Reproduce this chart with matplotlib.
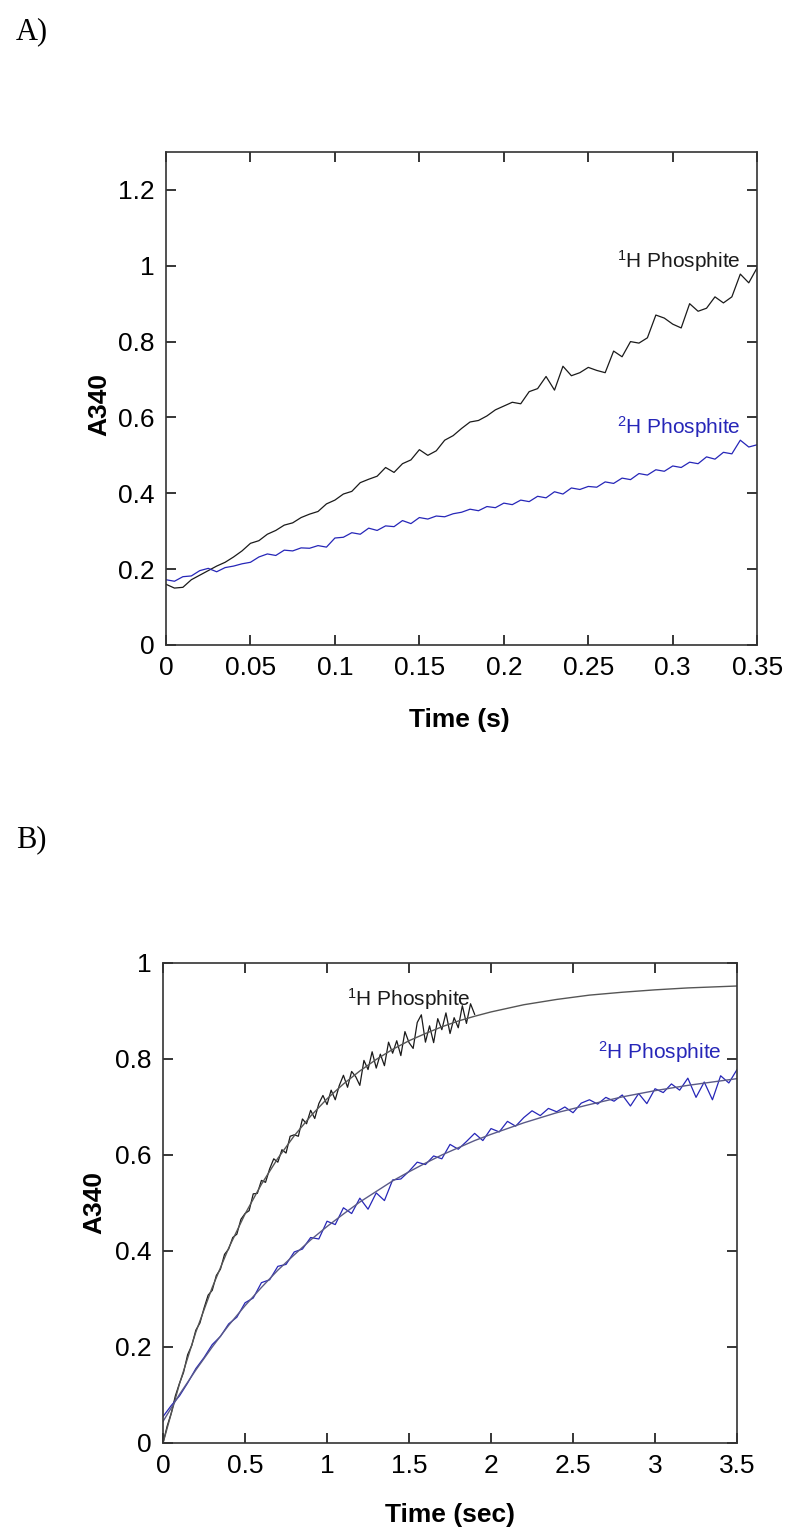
import matplotlib
matplotlib.use('Agg')
import matplotlib.pyplot as plt
from matplotlib.ticker import FuncFormatter

plt.rcParams['font.family'] = ['Liberation Sans', 'DejaVu Sans']
plt.rcParams['mathtext.fontset'] = 'custom'
plt.rcParams['mathtext.rm'] = 'Liberation Sans'
plt.rcParams['mathtext.default'] = 'regular'

# Panel A - first 0.35 s of the stopped-flow traces
time_a = [i * 0.005 for i in range(71)]
h1_a = [0.160, 0.150, 0.152, 0.172, 0.184, 0.196, 0.208, 0.218, 0.232, 0.248,
        0.268, 0.275, 0.292, 0.302, 0.316, 0.322, 0.336, 0.345, 0.352, 0.372,
        0.382, 0.398, 0.405, 0.428, 0.437, 0.445, 0.468, 0.455, 0.478, 0.488,
        0.515, 0.500, 0.512, 0.540, 0.552, 0.571, 0.588, 0.592, 0.604, 0.620,
        0.630, 0.640, 0.636, 0.668, 0.676, 0.708, 0.672, 0.735, 0.710, 0.718,
        0.732, 0.724, 0.718, 0.775, 0.760, 0.800, 0.796, 0.810, 0.870, 0.862,
        0.846, 0.836, 0.900, 0.880, 0.888, 0.918, 0.902, 0.918, 0.978, 0.955,
        0.995]
h2_a = [0.172, 0.168, 0.180, 0.182, 0.196, 0.202, 0.193, 0.204, 0.208, 0.214,
        0.218, 0.232, 0.240, 0.236, 0.250, 0.248, 0.256, 0.255, 0.262, 0.258,
        0.282, 0.284, 0.296, 0.292, 0.308, 0.302, 0.314, 0.312, 0.328, 0.320,
        0.336, 0.332, 0.340, 0.338, 0.346, 0.350, 0.358, 0.354, 0.365, 0.362,
        0.374, 0.370, 0.382, 0.378, 0.392, 0.388, 0.404, 0.398, 0.414, 0.410,
        0.418, 0.416, 0.430, 0.426, 0.440, 0.436, 0.452, 0.448, 0.462, 0.458,
        0.472, 0.468, 0.482, 0.478, 0.496, 0.490, 0.508, 0.504, 0.540, 0.522,
        0.528]

# Panel B - longer traces with their fitted curves
time_b1 = [i * 0.025 for i in range(77)]
h1_b = [0.000, 0.035, 0.062, 0.098, 0.124, 0.147, 0.184, 0.203, 0.235, 0.250,
        0.281, 0.308, 0.318, 0.349, 0.362, 0.393, 0.404, 0.428, 0.435, 0.466,
        0.478, 0.484, 0.519, 0.520, 0.547, 0.543, 0.571, 0.592, 0.585, 0.611,
        0.604, 0.639, 0.642, 0.639, 0.675, 0.665, 0.693, 0.676, 0.707, 0.724,
        0.705, 0.735, 0.715, 0.745, 0.766, 0.741, 0.774, 0.763, 0.745, 0.797,
        0.778, 0.815, 0.781, 0.810, 0.786, 0.835, 0.812, 0.838, 0.807, 0.857,
        0.834, 0.822, 0.876, 0.892, 0.835, 0.869, 0.834, 0.884, 0.861, 0.896,
        0.853, 0.886, 0.865, 0.911, 0.874, 0.915, 0.893]
time_b2 = [i * 0.05 for i in range(71)]
h2_b = [0.055, 0.078, 0.098, 0.125, 0.155, 0.178, 0.205, 0.222, 0.248, 0.262,
        0.292, 0.302, 0.334, 0.340, 0.368, 0.372, 0.398, 0.404, 0.428, 0.425,
        0.462, 0.455, 0.490, 0.478, 0.510, 0.487, 0.521, 0.505, 0.548, 0.550,
        0.566, 0.585, 0.580, 0.598, 0.592, 0.622, 0.612, 0.628, 0.645, 0.630,
        0.655, 0.648, 0.670, 0.660, 0.678, 0.692, 0.682, 0.697, 0.690, 0.700,
        0.688, 0.708, 0.715, 0.706, 0.720, 0.712, 0.725, 0.702, 0.728, 0.707,
        0.738, 0.730, 0.748, 0.735, 0.760, 0.720, 0.752, 0.715, 0.765, 0.750,
        0.778]
fit_time = [0, 0.1, 0.2, 0.3, 0.4, 0.5, 0.6, 0.7, 0.8, 0.9, 1.0, 1.1, 1.2, 1.3,
            1.4, 1.5, 1.6, 1.7, 1.8, 1.9, 2.0, 2.2, 2.4, 2.6, 2.8, 3.0, 3.2, 3.5]
h1_fit = [0.000, 0.123, 0.231, 0.324, 0.406, 0.477, 0.539, 0.593, 0.640, 0.681,
          0.717, 0.748, 0.775, 0.799, 0.820, 0.838, 0.853, 0.867, 0.879, 0.889,
          0.898, 0.913, 0.924, 0.933, 0.939, 0.944, 0.948, 0.952]
h2_fit = [0.045, 0.101, 0.152, 0.200, 0.245, 0.286, 0.324, 0.360, 0.392, 0.423,
          0.451, 0.477, 0.502, 0.524, 0.546, 0.565, 0.583, 0.600, 0.615, 0.630,
          0.643, 0.667, 0.688, 0.705, 0.721, 0.734, 0.745, 0.759]

BLACK = '#1a1a1a'
BLUE = '#2626b8'
TICK_FS = 19
LABEL_FS = 19
NOTE_FS = 15


def style_axes(ax):
    ax.tick_params(direction='in', length=7, width=1.1, top=True, right=True,
                   labelsize=TICK_FS, pad=8)
    for side in ax.spines.values():
        side.set_linewidth(1.2)
        side.set_color('#333333')
    fmt = FuncFormatter(lambda v, p: '%g' % round(v, 3))
    ax.xaxis.set_major_formatter(fmt)
    ax.yaxis.set_major_formatter(fmt)


fig = plt.figure(figsize=(8, 15.4), dpi=100)

# ---- Panel A
ax1 = fig.add_axes([0.2075, 0.5812, 0.739, 0.3201])
ax1.plot(time_a, h1_a, color=BLACK, lw=0.9)
ax1.plot(time_a, h2_a, color=BLUE, lw=0.9)
ax1.set_xlim(0, 0.35)
ax1.set_ylim(0, 1.3)
ax1.set_xticks([0, 0.05, 0.1, 0.15, 0.2, 0.25, 0.3, 0.35])
ax1.set_yticks([0, 0.2, 0.4, 0.6, 0.8, 1.0, 1.2])
style_axes(ax1)
ax1.set_xlabel('Time (s)', fontsize=LABEL_FS, fontweight='bold')
ax1.set_ylabel('A340', fontsize=LABEL_FS, fontweight='bold')
ax1.xaxis.set_label_coords(0.497, -0.128)
ax1.yaxis.set_label_coords(-0.093, 0.487)
ax1.text(0.267, 1.013, r'$^{1}$H Phosphite', color=BLACK, fontsize=NOTE_FS,
         ha='left', va='center')
ax1.text(0.267, 0.575, r'$^{2}$H Phosphite', color=BLUE, fontsize=NOTE_FS,
         ha='left', va='center')

# ---- Panel B
ax2 = fig.add_axes([0.2038, 0.063, 0.7175, 0.3117])
ax2.plot(time_b1, h1_b, color=BLACK, lw=0.9)
ax2.plot(fit_time, h1_fit, color='#555555', lw=1.0)
ax2.plot(time_b2, h2_b, color=BLUE, lw=0.9)
ax2.plot(fit_time, h2_fit, color='#5a5a88', lw=1.0)
ax2.set_xlim(0, 3.5)
ax2.set_ylim(0, 1.0)
ax2.set_xticks([0, 0.5, 1, 1.5, 2, 2.5, 3, 3.5])
ax2.set_yticks([0, 0.2, 0.4, 0.6, 0.8, 1.0])
style_axes(ax2)
ax2.set_xlabel('Time (sec)', fontsize=LABEL_FS, fontweight='bold')
ax2.set_ylabel('A340', fontsize=LABEL_FS, fontweight='bold')
ax2.xaxis.set_label_coords(0.5, -0.125)
ax2.yaxis.set_label_coords(-0.098, 0.5)
ax2.text(1.12, 0.925, r'$^{1}$H Phosphite', color=BLACK, fontsize=NOTE_FS,
         ha='left', va='center')
ax2.text(2.65, 0.815, r'$^{2}$H Phosphite', color=BLUE, fontsize=NOTE_FS,
         ha='left', va='center')

# panel letters
fig.text(0.02, 1 - 32 / 1540, 'A)', fontsize=22, family='Liberation Serif',
         ha='left', va='center')
fig.text(0.02, 1 - 840 / 1540, 'B)', fontsize=22, family='Liberation Serif',
         ha='left', va='center')

fig.savefig('out.png', dpi=100)
